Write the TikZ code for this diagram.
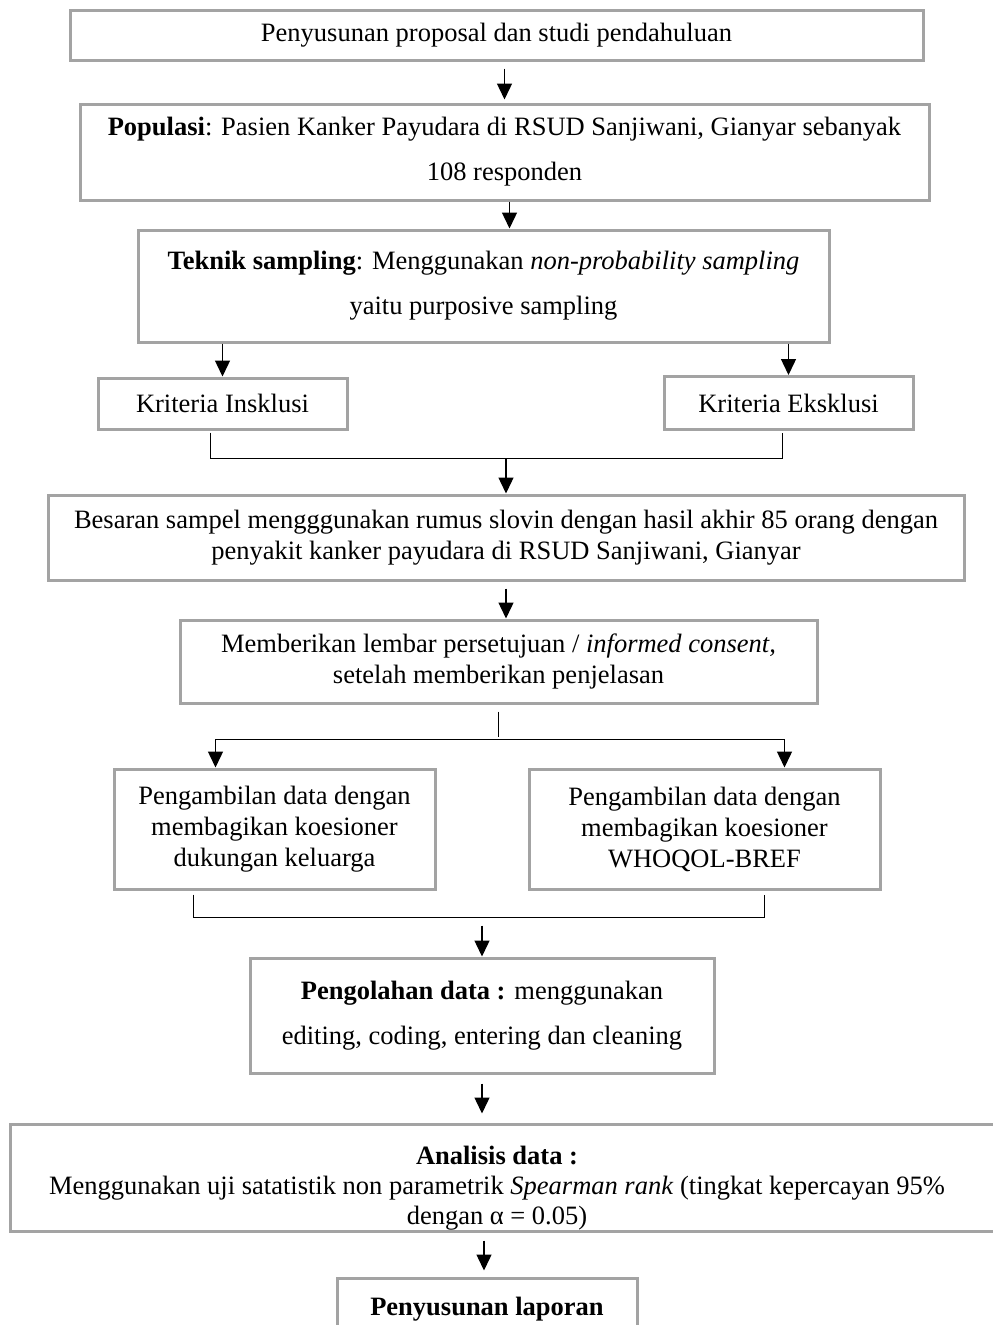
\documentclass[tikz,border=0pt]{standalone}
\usepackage{fontspec}
\setmainfont{Liberation Serif}
\usetikzlibrary{arrows.meta,calc}

\definecolor{abu}{RGB}{163,163,163}

\tikzset{
  kotak/.style={draw=abu, line width=3pt, inner sep=0pt, align=center},
  spasi/.style={font=\fontsize{26.5}{45}\selectfont},
  garis/.style={line width=1.4pt},
  panah/.style={garis, -{Triangle[width=15pt,length=16pt]}}
}

\begin{document}
\begin{tikzpicture}[x=1pt,y=-1pt,font=\fontsize{26.5}{31}\selectfont]

\useasboundingbox (0,0) rectangle (993,1325);

% kotak-kotak alur
\node[kotak, minimum width=853pt, minimum height=50pt] (prop) at (496.5,35) {Penyusunan proposal dan studi pendahuluan};
\node[kotak, spasi, minimum width=849pt, minimum height=96pt] (pop) at (504.5,152) {\textbf{Populasi}: Pasien Kanker Payudara di RSUD Sanjiwani, Gianyar sebanyak\\108 responden};
\node[kotak, spasi, minimum width=691pt, minimum height=112pt] (tek) at (483.5,286) {\textbf{Teknik sampling}: Menggunakan \textit{non-probability sampling}\\yaitu purposive sampling};

\node[kotak, minimum width=249pt, minimum height=51pt] (inklusi) at (222.5,403.5) {Kriteria Insklusi};
\node[kotak, minimum width=249pt, minimum height=53pt] (eksklusi) at (788.5,403) {Kriteria Eksklusi};

\node[kotak, minimum width=916pt, minimum height=85pt] (besaran) at (506,537.5) {Besaran sampel mengggunakan rumus slovin dengan hasil akhir 85 orang dengan\\penyakit kanker payudara di RSUD Sanjiwani, Gianyar};
\node[kotak, minimum width=637pt, minimum height=83pt] (memberikan) at (498.5,661.5) {Memberikan lembar persetujuan / \textit{informed consent,}\\setelah memberikan penjelasan};

\node[kotak, minimum width=321pt, minimum height=120pt] (kiri) at (274.5,829) {Pengambilan data dengan\\membagikan koesioner\\dukungan keluarga};
\node[kotak, minimum width=351pt, minimum height=120pt] (kanan) at (704.5,829) {Pengambilan data dengan\\membagikan koesioner\\WHOQOL-BREF};

\node[kotak, spasi, minimum width=464pt, minimum height=115pt] (olah) at (482,1015.5) {\textbf{Pengolahan data :} menggunakan\\editing, coding, entering dan cleaning};

% teks dulu, kotak di atasnya
\node[align=center, font=\fontsize{26.5}{30}\selectfont] (analisis-t) at (497,1188) {\textbf{Analisis data :}\\Menggunakan uji satatistik non parametrik \textit{Spearman rank} (tingkat kepercayan 95\%\\dengan α = 0.05)};
\node[kotak, minimum width=990pt, minimum height=107pt] (analisis) at (505,1177.5) {};

\node[kotak, minimum width=300pt, minimum height=62pt] (laporan) at (487,1309) {\textbf{Penyusunan laporan}};

% panah
\draw[panah, shorten <=7pt, shorten >=3pt] (prop.south -| pop.north) -- (pop.north);
\draw[panah] ([xshift=5pt]pop.south) -- ([xshift=5pt]pop.south |- tek.north);
\draw[panah] (tek.south -| inklusi.north) -- (inklusi.north);
\draw[panah] (tek.south -| eksklusi.north) -- (eksklusi.north);

\coordinate (gab1) at ($(besaran.north)+(0,-35)$);
\draw[garis, shorten <=2pt, shorten >=2pt] ([xshift=-12pt]inklusi.south) |- (gab1) -| ([xshift=-6pt]eksklusi.south);
\draw[panah] (gab1) -- (besaran.north);

\draw[panah, shorten <=7pt] (besaran.south) -- (besaran.south |- memberikan.north);

\coordinate (cab1) at ($(memberikan.south)+(0,35)$);
\draw[garis, shorten <=7pt, shorten >=3pt] (memberikan.south) -- (cab1);
\draw[panah] (cab1) -| ([xshift=-59pt]kiri.north);
\draw[panah] (cab1) -| ([xshift=80pt]kanan.north);

\coordinate (gab2) at ($(olah.north)+(0,-39)$);
\draw[garis, shorten <=4pt, shorten >=4pt] ([xshift=-81pt]kiri.south) |- (gab2) -| ([xshift=60pt]kanan.south);
\draw[panah, shorten <=8pt] (gab2) -- (olah.north);

\draw[panah, shorten <=9pt, shorten >=9pt] (olah.south) -- (olah.south |- analisis.north);
\draw[panah, shorten <=8pt, shorten >=6pt] ([xshift=-3pt]laporan.north |- analisis.south) -- ([xshift=-3pt]laporan.north);

\end{tikzpicture}
\end{document}
